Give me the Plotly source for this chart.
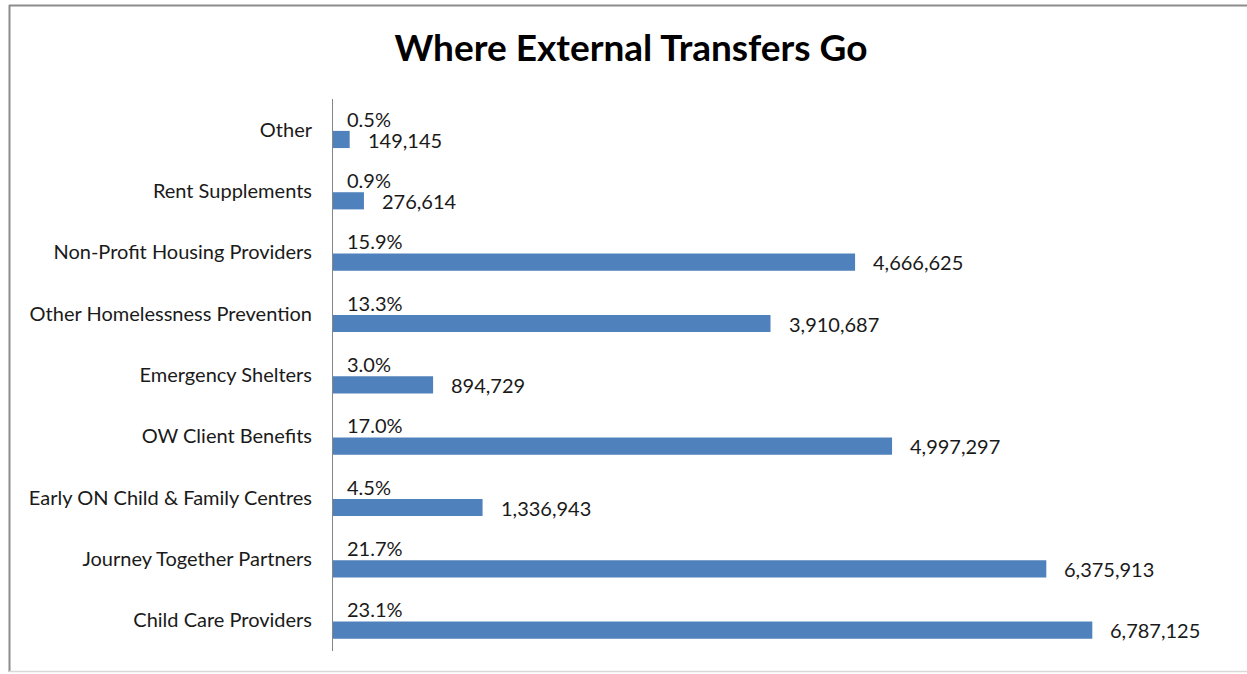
import plotly.graph_objects as go

# Transfer destinations, bottom to top as drawn on the category axis
categories = [
    "Child Care Providers",
    "Journey Together Partners",
    "Early ON Child & Family Centres",
    "OW Client Benefits",
    "Emergency Shelters",
    "Other Homelessness Prevention",
    "Non-Profit Housing Providers",
    "Rent Supplements",
    "Other",
]
amounts = [6787125, 6375913, 1336943, 4997297, 894729, 3910687, 4666625, 276614, 149145]
shares = ["23.1%", "21.7%", "4.5%", "17.0%", "3.0%", "13.3%", "15.9%", "0.9%", "0.5%"]

W, H = 1247, 674
ML, MR, MT, MB = 333, 19, 99, 23
FONT = "Lato"
FS = 20
TXT = "#1a1a1a"

fig = go.Figure(
    go.Bar(
        x=amounts,
        y=categories,
        orientation="h",
        marker=dict(color="#4F81BD", line=dict(width=0)),
        width=0.28,
        offset=-0.30,
        hoverinfo="x+y",
    )
)

# Share labels above each bar, amount labels past the bar end
for cat, amt, pct in zip(categories, amounts, shares):
    fig.add_annotation(
        x=0, y=cat, text=pct, showarrow=False, xanchor="left", yanchor="middle",
        xshift=12, yshift=11, font=dict(family=FONT, size=FS, color=TXT),
    )
    fig.add_annotation(
        x=amt, y=cat, text=f"{amt:,}", showarrow=False, xanchor="left", yanchor="middle",
        xshift=16, yshift=-10, font=dict(family=FONT, size=FS, color=TXT),
    )

# Chart-area frame (top and left grey, bottom faint)
pw = W - ML - MR
ph = H - MT - MB
def px_x(p):
    return (p - ML) / pw
def px_y(p):
    return 1 - (p - MT) / ph

fig.add_shape(type="line", xref="paper", yref="paper",
              x0=px_x(9), x1=px_x(W + 5), y0=px_y(5.5), y1=px_y(5.5),
              line=dict(color="#8c8c8c", width=2))
fig.add_shape(type="line", xref="paper", yref="paper",
              x0=px_x(9.5), x1=px_x(9.5), y0=px_y(5), y1=px_y(672),
              line=dict(color="#8c8c8c", width=2))
fig.add_shape(type="line", xref="paper", yref="paper",
              x0=px_x(9), x1=px_x(W + 5), y0=px_y(671.5), y1=px_y(671.5),
              line=dict(color="#d9d9d9", width=1.5))

fig.update_layout(
    width=W, height=H,
    margin=dict(l=ML, r=MR, t=MT, b=MB, pad=0),
    paper_bgcolor="white", plot_bgcolor="white",
    showlegend=False,
    title=dict(
        text="<b>Where External Transfers Go</b>",
        x=631 / W, xanchor="center", y=1 - 48 / H, yanchor="middle",
        font=dict(family=FONT, size=37, color="black"),
    ),
    xaxis=dict(range=[0, 8000000], visible=False, showgrid=False, zeroline=False),
    yaxis=dict(
        showgrid=False, zeroline=False, showline=True, linecolor="#868686", linewidth=1,
        ticks="", ticklabelstandoff=16,
        tickfont=dict(family=FONT, size=FS, color=TXT),
    ),
)

fig.write_html("out.html")
